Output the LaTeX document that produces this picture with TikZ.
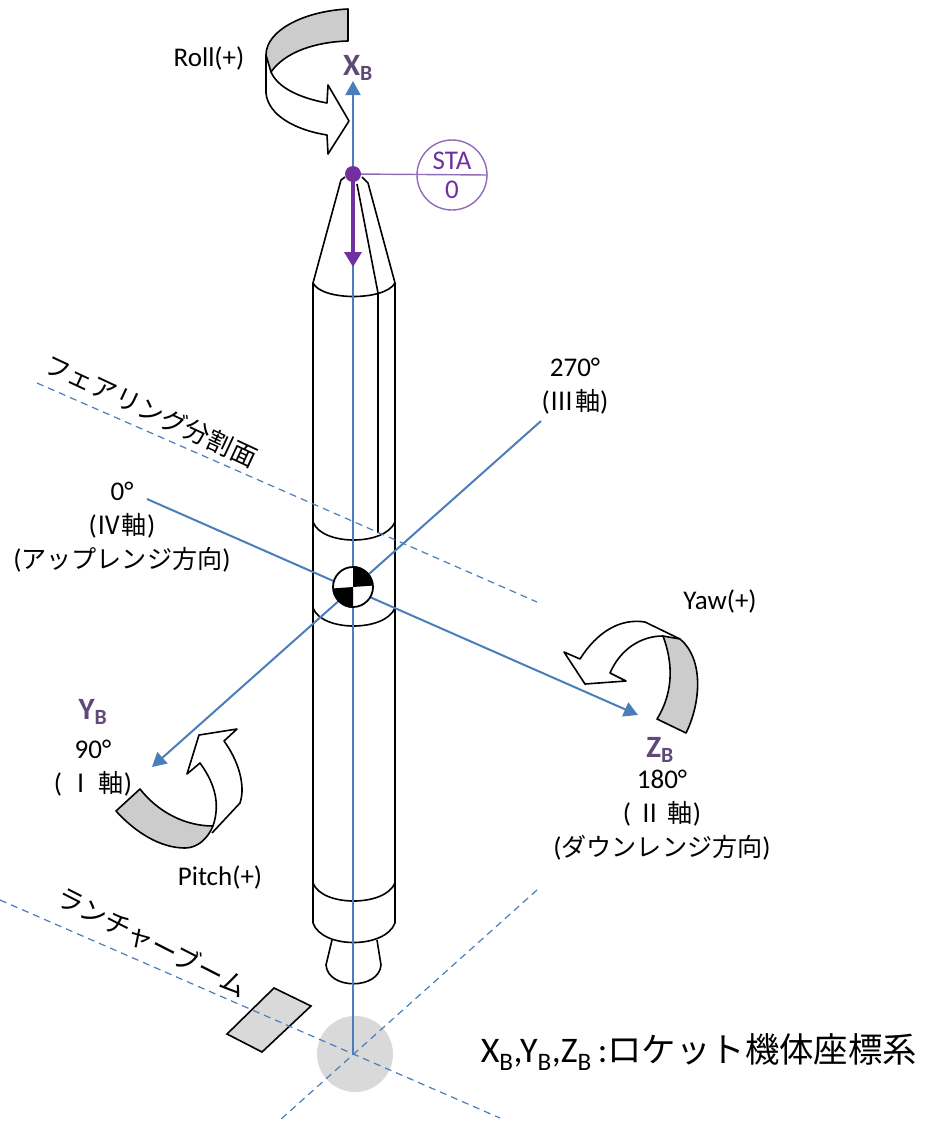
\documentclass[tikz,border=0pt]{standalone}
\usepackage{fontspec}
\setmainfont{Carlito}
\newfontfamily\cjk[Scale=0.93]{Noto Sans CJK JP}
\usetikzlibrary{arrows.meta}
\definecolor{axisblue}{HTML}{4A7EBB}
\definecolor{markpurple}{HTML}{7030A0}
\definecolor{stapurple}{HTML}{8F6BB5}
\definecolor{labelpurple}{HTML}{5F497A}
\definecolor{bandgray}{HTML}{CCCCCC}
\definecolor{groundgray}{HTML}{D9D9D9}
\begin{document}
\begin{tikzpicture}[
    x=1pt, y=-1pt,
    body/.style={draw, line width=1.6pt},
    band/.style={draw, line width=1.6pt, fill=bandgray, line join=round},
    turn/.style={draw, line width=1.6pt, fill=white, line join=round},
    axisline/.style={draw=axisblue, line width=2pt, -{Triangle[length=14pt,width=15pt]}},
    planeline/.style={draw=axisblue, line width=1.2pt, dash pattern=on 7pt off 5pt},
    txt/.style={inner sep=0pt, align=center, font=\fontsize{27}{34}\selectfont},
    axislabel/.style={inner sep=0pt, text=labelpurple, font=\fontsize{31}{34}\selectfont\bfseries}
]
\useasboundingbox (0,0) rectangle (929,1124);

% Ground
\fill[groundgray] (355,1054) circle (38);
\draw[body, fill=groundgray] (274,988) -- (311,1006) -- (262,1052) -- (227,1034) -- cycle;

% Rocket body
\draw[body, line join=round] (313,923) -- (313,283) -- (341,180) -- (345,177);
\draw[body, line join=round] (395,923) -- (395,283) -- (368,183) -- (362,177);
\draw[body] (357,184) -- (378,293) -- (378,533);
\draw[body] (313,283) .. controls (322,301) and (385,301) .. (395,283);
\draw[body] (313,522) .. controls (322,546) and (385,546) .. (395,522);
\draw[body] (313,608) .. controls (322,632) and (385,632) .. (395,608);
\draw[body] (313,883) .. controls (322,907) and (385,907) .. (395,883);
\draw[body] (313,923) .. controls (322,949) and (385,949) .. (395,923);
\draw[body] (332,940) -- (326,965) .. controls (328,990) and (379,990) .. (381,965) -- (377,940);

% Reference points
\coordinate (foot) at (353,1055);
\coordinate (xtip) at (353,81);
\coordinate (ytip) at (152,767);
\coordinate (ztip) at (638,715);
\coordinate (yend) at (541,421);
\coordinate (zend) at (147,499);
\coordinate (fairA) at (37,383);
\coordinate (fairB) at (537,602);
\coordinate (boomA) at (0,900);
\coordinate (boomB) at (500,1118);
\coordinate (sideA) at (537,890);
\coordinate (sideB) at (280,1120);

% Dashed planes
\draw[planeline] (fairA) -- (fairB);
\draw[planeline] (boomA) -- (boomB);
\draw[planeline] (sideA) -- (sideB);

% Axes
\draw[axisline] (foot) -- (xtip);
\draw[axisline] (yend) -- (ytip);
\draw[axisline] (zend) -- (ztip);

% Centre of gravity
\node[circle, draw, line width=1.8pt, fill=white, minimum size=40pt, inner sep=0pt] (cg) at (353,587) {};
\fill (cg.center) -- (cg.north) arc (-90:0:19.5) -- cycle;
\fill (cg.center) -- (cg.south) arc (90:180:19.5) -- cycle;

% STA 0
\node[circle, fill=markpurple, minimum size=16pt, inner sep=0pt] (tip) at (353,174) {};
\node[circle, draw=stapurple, line width=1.4pt, minimum size=70pt, inner sep=0pt, text=markpurple, align=center, font=\fontsize{27}{29}\selectfont] (sta) at (452,175) {STA\\0};
\draw[stapurple, line width=1.4pt] (tip) -- (sta.east);
\coordinate (staEnd) at (353,267);
\draw[markpurple, line width=3.5pt, -{Triangle[length=15pt,width=17pt]}] (tip.center) -- (staEnd);

% Roll
\draw[turn] (266,55) -- (266,93) .. controls (268,115) and (295,130) .. (327,135) -- (328,154) -- (349,121) -- (328,85) -- (327,103) .. controls (300,98) and (278,88) .. (271,72);
\draw[band] (348,9) .. controls (305,11) and (266,30) .. (266,55) -- (271,72) .. controls (285,52) and (315,42) .. (348,41) -- cycle;

% Pitch
\draw[turn] (213,826) .. controls (220,805) and (216,785) .. (200,763) -- (187,774) -- (199,735) -- (237,729) -- (224,741) .. controls (238,760) and (246,785) .. (240,803) -- (212,833);
\draw[band] (140,789) -- (116,811) .. controls (135,832) and (160,848) .. (185,848) .. controls (198,848) and (208,838) .. (213,826) .. controls (185,826) and (158,812) .. (140,789) -- cycle;

% Yaw
\draw[turn] (663,636) .. controls (640,636) and (620,650) .. (610,673) -- (626,681) -- (585,684) -- (564,652) -- (580,659) .. controls (597,632) and (620,618) .. (645,622) -- (680,639);
\draw[band] (663,636) .. controls (672,660) and (675,690) .. (657,719) -- (686,733) .. controls (700,705) and (705,660) .. (680,639) -- cycle;

% Labels
\node[txt] (roll) at (209,58) {Roll(+)};
\node[txt] (pitch) at (220,877) {Pitch(+)};
\node[txt] (yaw) at (720,601) {Yaw(+)};
\node[axislabel] (xb) at (358,68) {X\textsubscript{B}};
\node[axislabel] (yb) at (93,712) {Y\textsubscript{B}};
\node[axislabel] (zb) at (660,750) {Z\textsubscript{B}};
\node[txt] (deg270) at (575,386) {270°\\({\cjk Ⅲ軸})};
\node[txt] (deg0) at (122,527) {0°\\({\cjk Ⅳ軸})\\({\cjk アップレンジ方向})};
\node[txt] (deg90) at (93,768) {90°\\( {\cjk Ⅰ 軸})};
\node[txt] (deg180) at (662,815) {180°\\( {\cjk Ⅱ 軸})\\({\cjk ダウンレンジ方向})};
\node[txt, rotate=-25, font=\fontsize{27.5}{30}\selectfont\cjk] (fairing) at (151,411) {フェアリング分割面};
\node[txt, rotate=-27, font=\fontsize{28.5}{30}\selectfont\cjk] (boom) at (152,942) {ランチャーブーム};
\node[txt, font=\fontsize{36}{38}\selectfont] (frame) at (699,1052) {X\textsubscript{B},Y\textsubscript{B},Z\textsubscript{B}\,:{\cjk\fontsize{37}{38}\selectfont ロケット機体座標系}};
\end{tikzpicture}
\end{document}
